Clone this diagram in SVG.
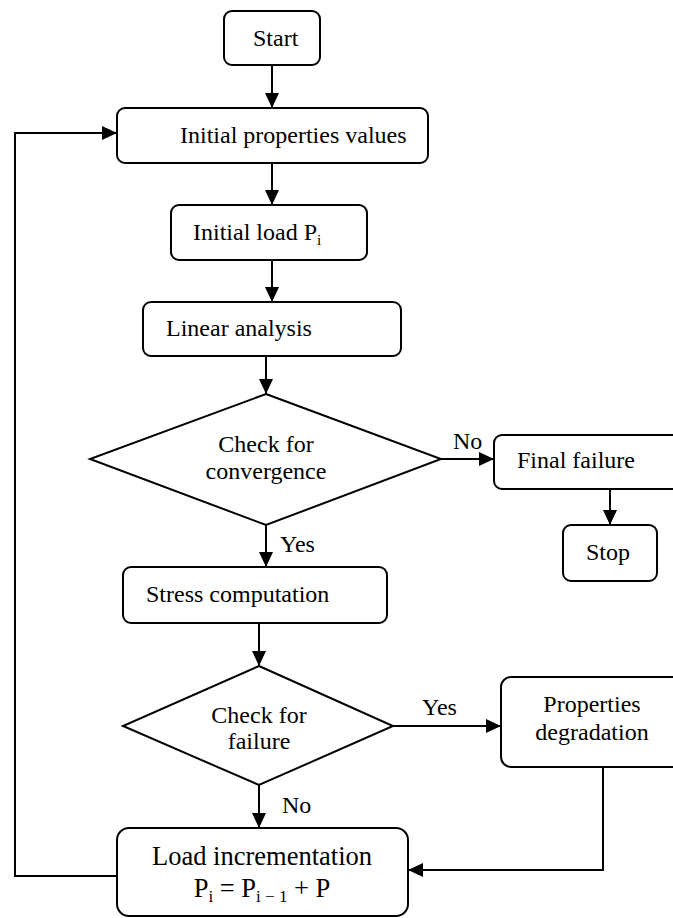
<svg xmlns="http://www.w3.org/2000/svg" width="673" height="918" viewBox="0 0 673 918">
<style>
.box{fill:#fff;stroke:#000;stroke-width:2}
.c{fill:none;stroke:#000;stroke-width:2}
text{font-family:"Liberation Serif","Times New Roman",serif;font-size:24px;fill:#000}
.m{text-anchor:middle}
.sub{font-size:15px}
.big{font-size:26.5px}
.bsub{font-size:17px}
</style>
<defs>
<marker id="ah" markerUnits="userSpaceOnUse" markerWidth="16" markerHeight="16" viewBox="0 0 16 16" refX="15" refY="8" orient="auto">
<path d="M0,1 L15,8 L0,15 Z" fill="#000"/>
</marker>
</defs>
<rect width="673" height="918" fill="#fff"/>
<g id="connectors">
<path class="c" d="M272,65 V108" marker-end="url(#ah)"/>
<path class="c" d="M272,163 V205" marker-end="url(#ah)"/>
<path class="c" d="M272,260 V302" marker-end="url(#ah)"/>
<path class="c" d="M266,356 V394" marker-end="url(#ah)"/>
<path class="c" d="M441,459 H494" marker-end="url(#ah)"/>
<path class="c" d="M610,489 V525" marker-end="url(#ah)"/>
<path class="c" d="M266,525 V567" marker-end="url(#ah)"/>
<path class="c" d="M259,623 V666" marker-end="url(#ah)"/>
<path class="c" d="M393,726 H501" marker-end="url(#ah)"/>
<path class="c" d="M259,785 V828" marker-end="url(#ah)"/>
<path class="c" d="M603,767 V870 H408" marker-end="url(#ah)"/>
<path class="c" d="M117,876 H15 V133 H117" marker-end="url(#ah)"/>
<text x="453" y="449">No</text>
<text x="280" y="552">Yes</text>
<text x="422" y="715">Yes</text>
<text x="282" y="813">No</text>
</g>
<g id="start">
<rect class="box" x="224" y="11" width="96" height="54" rx="8"/>
<text x="253" y="46">Start</text>
</g>
<g id="initial-properties">
<rect class="box" x="117" y="108" width="311" height="55" rx="8"/>
<text x="180" y="143">Initial properties values</text>
</g>
<g id="initial-load">
<rect class="box" x="171" y="205" width="196" height="55" rx="8"/>
<text x="193" y="240">Initial load P<tspan class="sub" dy="5">i</tspan></text>
</g>
<g id="linear-analysis">
<rect class="box" x="143" y="302" width="258" height="54" rx="8"/>
<text x="166" y="336">Linear analysis</text>
</g>
<g id="check-convergence">
<polygon class="box" points="266,394 441,459 266,525 90,459"/>
<text class="m" x="266" y="452">Check for</text>
<text class="m" x="266" y="479">convergence</text>
</g>
<g id="final-failure">
<rect class="box" x="494" y="435" width="190" height="54" rx="8"/>
<text x="517" y="468">Final failure</text>
</g>
<g id="stop">
<rect class="box" x="563" y="525" width="94" height="56" rx="8"/>
<text class="m" x="608" y="560">Stop</text>
</g>
<g id="stress-computation">
<rect class="box" x="123" y="567" width="264" height="56" rx="8"/>
<text x="146" y="602">Stress computation</text>
</g>
<g id="check-failure">
<polygon class="box" points="259,666 393,726 259,785 123,726"/>
<text class="m" x="259" y="723">Check for</text>
<text class="m" x="259" y="749">failure</text>
</g>
<g id="properties-degradation">
<rect class="box" x="501" y="677" width="190" height="90" rx="10"/>
<text class="m" x="592" y="712">Properties</text>
<text class="m" x="592" y="740">degradation</text>
</g>
<g id="load-incrementation">
<rect class="box" x="117" y="828" width="291" height="88" rx="12"/>
<text class="m big" x="262" y="865">Load incrementation</text>
<text class="m big" x="262" y="897">P<tspan class="bsub" dy="5">i</tspan><tspan dy="-5"> = P</tspan><tspan class="bsub" dy="5">i − 1</tspan><tspan dy="-5"> + P</tspan></text>
</g>
</svg>
